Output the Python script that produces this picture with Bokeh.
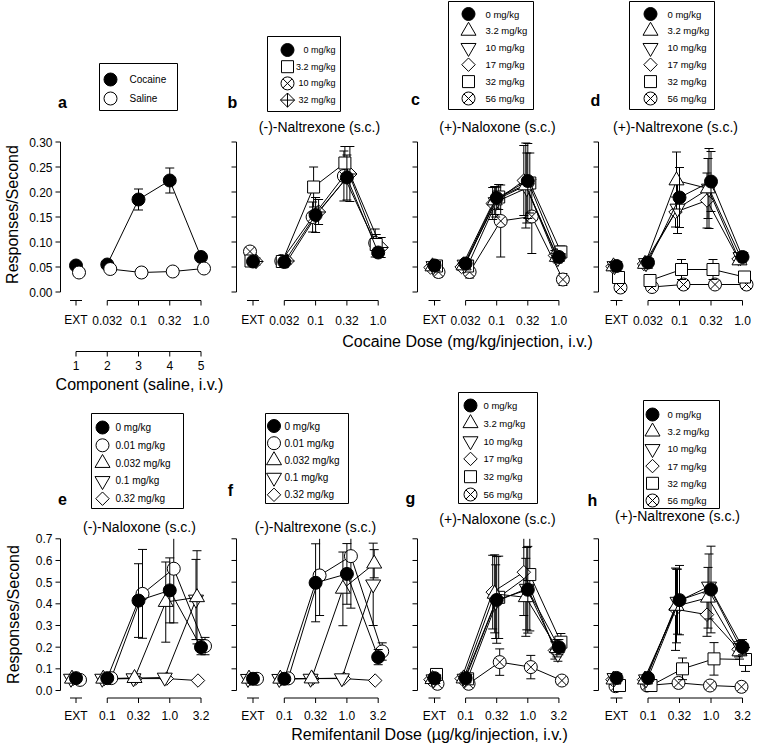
import numpy as np
from bokeh.plotting import figure
from bokeh.models import Range1d
from bokeh.core.properties import value
from bokeh.embed import file_html
from bokeh.resources import INLINE

# ===================== DATA =====================
cocaine_dose_labels = ["EXT", "0.032", "0.1", "0.32", "1.0"]
remifentanil_dose_labels = ["EXT", "0.1", "0.32", "1.0", "3.2"]
component_labels = ["1", "2", "3", "4", "5"]
top_y_ticks = [0.00, 0.05, 0.10, 0.15, 0.20, 0.25, 0.30]
top_y_tick_labels = ["0.00", "0.05", "0.10", "0.15", "0.20", "0.25", "0.30"]
bottom_y_ticks = [0.0, 0.1, 0.2, 0.3, 0.4, 0.5, 0.6, 0.7]
bottom_y_tick_labels = ["0.0", "0.1", "0.2", "0.3", "0.4", "0.5", "0.6", "0.7"]

# (a) cocaine vs saline
a_labels = ["Cocaine", "Saline"]
a_cocaine_mean = [0.053, 0.055, 0.185, 0.223, 0.070]
a_cocaine_sem = [0.004, 0.004, 0.021, 0.025, 0.006]
a_saline_mean = [0.039, 0.046, 0.039, 0.041, 0.047]
a_saline_sem = [0.003, 0.003, 0.002, 0.003, 0.004]

# (b) (-)-naltrexone, cocaine
b_labels = ["0 mg/kg", "3.2 mg/kg", "10 mg/kg", "32 mg/kg"]
b_0_mean = [0.061, 0.060, 0.154, 0.229, 0.079]
b_0_sem = [0.006, 0.005, 0.035, 0.045, 0.010]
b_3p2_mean = [0.062, 0.061, 0.210, 0.258, 0.095]
b_3p2_sem = [0.008, 0.006, 0.040, 0.033, 0.020]
b_10_mean = [0.081, 0.062, 0.150, 0.232, 0.098]
b_10_sem = [0.009, 0.006, 0.030, 0.050, 0.028]
b_32_mean = [0.061, 0.062, 0.160, 0.236, 0.089]
b_32_sem = [0.007, 0.006, 0.025, 0.055, 0.020]

# (c) (+)-naloxone, cocaine
c_labels = ["0 mg/kg", "3.2 mg/kg", "10 mg/kg", "17 mg/kg", "32 mg/kg", "56 mg/kg"]
c_0_mean = [0.053, 0.057, 0.188, 0.222, 0.070]
c_0_sem = [0.006, 0.006, 0.022, 0.075, 0.008]
c_3p2_mean = [0.051, 0.053, 0.183, 0.213, 0.070]
c_3p2_sem = [0.006, 0.006, 0.028, 0.085, 0.010]
c_10_mean = [0.052, 0.055, 0.180, 0.208, 0.068]
c_10_sem = [0.006, 0.006, 0.030, 0.070, 0.010]
c_17_mean = [0.049, 0.050, 0.177, 0.223, 0.073]
c_17_sem = [0.006, 0.006, 0.032, 0.070, 0.010]
c_32_mean = [0.052, 0.052, 0.190, 0.218, 0.080]
c_32_sem = [0.006, 0.006, 0.025, 0.060, 0.012]
c_56_mean = [0.040, 0.040, 0.142, 0.151, 0.025]
c_56_sem = [0.010, 0.012, 0.072, 0.074, 0.012]

# (d) (+)-naltrexone, cocaine
d_labels = ["0 mg/kg", "3.2 mg/kg", "10 mg/kg", "17 mg/kg", "32 mg/kg", "56 mg/kg"]
d_0_mean = [0.052, 0.059, 0.189, 0.221, 0.070]
d_0_sem = [0.008, 0.006, 0.060, 0.060, 0.010]
d_3p2_mean = [0.051, 0.056, 0.223, 0.207, 0.063]
d_3p2_sem = [0.008, 0.006, 0.057, 0.060, 0.008]
d_10_mean = [0.052, 0.058, 0.167, 0.207, 0.070]
d_10_sem = [0.008, 0.006, 0.050, 0.080, 0.008]
d_17_mean = [0.051, 0.056, 0.160, 0.183, 0.066]
d_17_sem = [0.008, 0.006, 0.030, 0.055, 0.008]
d_32_mean = [0.029, 0.023, 0.045, 0.045, 0.030]
d_32_sem = [0.006, 0.004, 0.020, 0.020, 0.005]
d_56_mean = [0.009, 0.010, 0.015, 0.015, 0.015]
d_56_sem = [0.003, 0.003, 0.003, 0.003, 0.003]

# (e) (-)-naloxone, remifentanil
e_labels = ["0 mg/kg", "0.01 mg/kg", "0.032 mg/kg", "0.1 mg/kg", "0.32 mg/kg"]
e_0_mean = [0.057, 0.057, 0.415, 0.462, 0.200]
e_0_sem = [0.008, 0.006, 0.170, 0.150, 0.035]
e_0p01_mean = [0.049, 0.057, 0.446, 0.562, 0.205]
e_0p01_sem = [0.008, 0.006, 0.205, 0.250, 0.040]
e_0p032_mean = [0.054, 0.054, 0.057, 0.408, 0.430]
e_0p032_sem = [0.006, 0.006, 0.006, 0.185, 0.215]
e_0p1_mean = [0.055, 0.055, 0.057, 0.060, 0.420]
e_0p1_sem = [0.006, 0.006, 0.006, 0.006, 0.185]
e_0p32_mean = [0.053, 0.053, 0.055, 0.055, 0.046]
e_0p32_sem = [0.006, 0.006, 0.006, 0.006, 0.005]

# (f) (-)-naltrexone, remifentanil
f_labels = ["0 mg/kg", "0.01 mg/kg", "0.032 mg/kg", "0.1 mg/kg", "0.32 mg/kg"]
f_0_mean = [0.054, 0.054, 0.497, 0.538, 0.154]
f_0_sem = [0.006, 0.006, 0.180, 0.140, 0.035]
f_0p01_mean = [0.054, 0.056, 0.531, 0.620, 0.180]
f_0p01_sem = [0.006, 0.006, 0.185, 0.240, 0.040]
f_0p032_mean = [0.054, 0.054, 0.055, 0.469, 0.585]
f_0p032_sem = [0.006, 0.006, 0.006, 0.170, 0.065]
f_0p1_mean = [0.054, 0.054, 0.055, 0.057, 0.490]
f_0p1_sem = [0.006, 0.006, 0.006, 0.006, 0.190]
f_0p32_mean = [0.054, 0.054, 0.055, 0.055, 0.046]
f_0p32_sem = [0.006, 0.006, 0.006, 0.006, 0.005]

# (g) (+)-naloxone, remifentanil
g_labels = ["0 mg/kg", "3.2 mg/kg", "10 mg/kg", "17 mg/kg", "32 mg/kg", "56 mg/kg"]
g_0_mean = [0.057, 0.057, 0.418, 0.465, 0.200]
g_0_sem = [0.008, 0.006, 0.200, 0.200, 0.035]
g_3p2_mean = [0.052, 0.055, 0.446, 0.430, 0.195]
g_3p2_sem = [0.008, 0.006, 0.180, 0.180, 0.040]
g_10_mean = [0.052, 0.055, 0.410, 0.470, 0.170]
g_10_sem = [0.008, 0.006, 0.170, 0.190, 0.035]
g_17_mean = [0.050, 0.055, 0.454, 0.546, 0.185]
g_17_sem = [0.008, 0.006, 0.170, 0.200, 0.040]
g_32_mean = [0.074, 0.054, 0.430, 0.535, 0.223]
g_32_sem = [0.010, 0.006, 0.190, 0.260, 0.040]
g_56_mean = [0.031, 0.031, 0.131, 0.108, 0.046]
g_56_sem = [0.005, 0.005, 0.061, 0.054, 0.005]

# (h) (+)-naltrexone, remifentanil
h_labels = ["0 mg/kg", "3.2 mg/kg", "10 mg/kg", "17 mg/kg", "32 mg/kg", "56 mg/kg"]
h_0_mean = [0.058, 0.058, 0.417, 0.466, 0.200]
h_0_sem = [0.008, 0.006, 0.160, 0.200, 0.035]
h_3p2_mean = [0.050, 0.050, 0.390, 0.428, 0.180]
h_3p2_sem = [0.008, 0.006, 0.170, 0.140, 0.035]
h_10_mean = [0.058, 0.052, 0.410, 0.480, 0.196]
h_10_sem = [0.008, 0.006, 0.150, 0.150, 0.035]
h_17_mean = [0.050, 0.050, 0.375, 0.350, 0.190]
h_17_sem = [0.008, 0.006, 0.190, 0.100, 0.035]
h_32_mean = [0.023, 0.023, 0.100, 0.146, 0.143]
h_32_sem = [0.005, 0.005, 0.050, 0.075, 0.055]
h_56_mean = [0.020, 0.023, 0.035, 0.023, 0.017]
h_56_sem = [0.004, 0.004, 0.004, 0.004, 0.004]

# ===================== STYLE / LAYOUT =====================
FONT = value("Liberation Sans")
W, H = 757, 745
X_LO, X_HI, Y_TOP, Y_BOT = 0, 757, 0, 745

MARKERS = {
    "filled": dict(marker="circle", size=13, fill="black", angle=0.0),
    "open": dict(marker="circle", size=13, fill="white", angle=0.0),
    "tri": dict(marker="triangle", size=15, fill="white", angle=0.0),
    "itri": dict(marker="inverted_triangle", size=15, fill="white", angle=0.0),
    "diam": dict(marker="square", size=9.5, fill="white", angle=np.pi / 4),
    "sq": dict(marker="square", size=12, fill="white", angle=0.0),
    "cx": dict(marker="circle_x", size=13, fill="white", angle=0.0),
    "dcross": dict(marker="square_x", size=10, fill="white", angle=np.pi / 4),
}

COLS = {
    1: dict(x0=75.5, dx=31.25, yaxis=60),
    2: dict(x0=252.5, dx=31.3, yaxis=236),
    3: dict(x0=434.0, dx=31.1, yaxis=417),
    4: dict(x0=616.0, dx=31.5, yaxis=598),
}
ROWS = {
    "top": dict(y0=291.5, ppu=500.0, ymax=0.30, xaxis=300, ticklab=319.5,
                ticks=top_y_ticks, labels=top_y_tick_labels),
    "bot": dict(y0=690.0, ppu=216.7, ymax=0.70, xaxis=697.5, ticklab=715,
                ticks=bottom_y_ticks, labels=bottom_y_tick_labels),
}

p = figure(width=W, height=H, x_range=Range1d(X_LO, X_HI), y_range=Range1d(Y_BOT, Y_TOP),
           output_backend="svg", toolbar_location=None,
           x_axis_location=None, y_axis_location=None, min_border=0)
p.outline_line_color = None
p.grid.grid_line_color = None
p.background_fill_color = "white"
p.border_fill_color = "white"

BLACK = "black"


def txt(x, y, s, size, align="center", bold=False, angle=0.0, **kw):
    p.text(x=x, y=y, text=s, text_font=FONT, text_font_size=size, text_align=align,
           text_baseline="middle", text_color=BLACK, angle=angle,
           text_font_style="bold" if bold else "normal", **kw)


def draw_panel(name, col, row, xlabels, series, ylabels=False):
    c, r = COLS[col], ROWS[row]
    x0, dx, y0, ppu, ymax = c["x0"], c["dx"], r["y0"], r["ppu"], r["ymax"]
    p.extra_x_ranges[name] = Range1d((X_LO - x0) / dx, (X_HI - x0) / dx)
    p.extra_y_ranges[name] = Range1d((y0 - Y_BOT) / ppu, (y0 - Y_TOP) / ppu)
    kw = dict(x_range_name=name, y_range_name=name)
    ux = lambda n: n / dx
    uy = lambda n: n / ppu
    ax = (c["yaxis"] - x0) / dx
    ticks = r["ticks"]
    nt = len(ticks)
    # y axis
    p.segment(x0=[ax], y0=[0], x1=[ax], y1=[ymax], line_color=BLACK, line_width=1, **kw)
    p.segment(x0=[ax] * nt, y0=ticks, x1=[ax - ux(5)] * nt, y1=ticks, line_color=BLACK, line_width=1, **kw)
    if ylabels:
        txt([ax - ux(8)] * nt, ticks, r["labels"], "12px", align="right", **kw)
    # broken x axis
    xa = (y0 - r["xaxis"]) / ppu
    pos = list(range(len(xlabels)))
    p.segment(x0=[1, -ux(6)], y0=[xa, xa], x1=[pos[-1], ux(6)], y1=[xa, xa],
              line_color=BLACK, line_width=1, **kw)
    p.segment(x0=pos, y0=[xa] * len(pos), x1=pos, y1=[xa - uy(5)] * len(pos),
              line_color=BLACK, line_width=1, **kw)
    txt(pos, [(y0 - r["ticklab"]) / ppu] * len(pos), xlabels, "12px", **kw)
    # data series
    for s in series:
        m = np.array(s["mean"], dtype=float)
        e = np.array(s["sem"], dtype=float)
        xs = np.arange(len(m)) + ux(s["off"])
        p.line(xs[1:], m[1:], line_color=BLACK, line_width=1, **kw)
        up = np.minimum(m + e, ymax)
        lo = m - e
        p.segment(x0=xs, y0=lo, x1=xs, y1=up, line_color=BLACK, line_width=1, **kw)
        capped = (m + e) <= ymax
        cw = ux(4.5)
        p.segment(x0=xs[capped] - cw, y0=up[capped], x1=xs[capped] + cw, y1=up[capped],
                  line_color=BLACK, line_width=1, **kw)
        p.segment(x0=xs - cw, y0=lo, x1=xs + cw, y1=lo, line_color=BLACK, line_width=1, **kw)
        st = MARKERS[s["style"]]
        p.scatter(xs, m, marker=st["marker"], size=st["size"], angle=st["angle"],
                  fill_color=st["fill"], line_color=BLACK, line_width=1, **kw)
    return dict(x0=x0, dx=dx, y0=y0, ppu=ppu, kw=kw)


def draw_legend(box, styles, labels, mx, tx, rows_y, size, align="left"):
    l, t, r_, b = box
    p.quad(left=[l], right=[r_], top=[t], bottom=[b], fill_color=None, line_color=BLACK, line_width=1)
    for st_key, yy in zip(styles, rows_y):
        st = MARKERS[st_key]
        p.scatter([mx], [yy], marker=st["marker"], size=st["size"], angle=st["angle"],
                  fill_color=st["fill"], line_color=BLACK, line_width=1)
    txt([tx] * len(labels), rows_y, labels, size, align=align)


def mk(means, sems, styles, offs, order):
    return [dict(mean=means[i], sem=sems[i], style=styles[i], off=offs[i]) for i in order]


six_styles = ["filled", "tri", "itri", "diam", "sq", "cx"]
five_styles = ["filled", "open", "tri", "itri", "diam"]
rev6 = [5, 4, 3, 2, 1, 0]
rev5 = [4, 3, 2, 1, 0]

# ---- panel a ----
pa = draw_panel("a", 1, "top", cocaine_dose_labels,
                mk([a_cocaine_mean, a_saline_mean], [a_cocaine_sem, a_saline_sem],
                   ["filled", "open"], [0, 3], [0, 1]), ylabels=True)
# component axis (saline)
comp_y = (pa["y0"] - 351) / pa["ppu"]
cpos = list(range(len(component_labels)))
p.segment(x0=[0], y0=[comp_y], x1=[cpos[-1]], y1=[comp_y], line_color=BLACK, line_width=1, **pa["kw"])
p.segment(x0=cpos, y0=[comp_y] * len(cpos), x1=cpos, y1=[comp_y - 5 / pa["ppu"]] * len(cpos),
          line_color=BLACK, line_width=1, **pa["kw"])
txt(cpos, [(pa["y0"] - 364.5) / pa["ppu"]] * len(cpos), component_labels, "12px", **pa["kw"])

# ---- panel b ----
draw_panel("b", 2, "top", cocaine_dose_labels,
           mk([b_0_mean, b_3p2_mean, b_10_mean, b_32_mean], [b_0_sem, b_3p2_sem, b_10_sem, b_32_sem],
              ["filled", "sq", "cx", "dcross"], [0, -2, -3, 3], [3, 2, 1, 0]))
# ---- panel c ----
draw_panel("c", 3, "top", cocaine_dose_labels,
           mk([c_0_mean, c_3p2_mean, c_10_mean, c_17_mean, c_32_mean, c_56_mean],
              [c_0_sem, c_3p2_sem, c_10_sem, c_17_sem, c_32_sem, c_56_sem],
              six_styles, [0, -2, -1, -4, 2, 4], rev6))
# ---- panel d ----
draw_panel("d", 4, "top", cocaine_dose_labels,
           mk([d_0_mean, d_3p2_mean, d_10_mean, d_17_mean, d_32_mean, d_56_mean],
              [d_0_sem, d_3p2_sem, d_10_sem, d_17_sem, d_32_sem, d_56_sem],
              six_styles, [0, -3, -2, -4, 2, 4], rev6))
# ---- panel e ----
draw_panel("e", 1, "bot", remifentanil_dose_labels,
           mk([e_0_mean, e_0p01_mean, e_0p032_mean, e_0p1_mean, e_0p32_mean],
              [e_0_sem, e_0p01_sem, e_0p032_sem, e_0p1_sem, e_0p32_sem],
              five_styles, [0, 4, -4, -5, -3], rev5), ylabels=True)
# ---- panel f ----
draw_panel("f", 2, "bot", remifentanil_dose_labels,
           mk([f_0_mean, f_0p01_mean, f_0p032_mean, f_0p1_mean, f_0p32_mean],
              [f_0_sem, f_0p01_sem, f_0p032_sem, f_0p1_sem, f_0p32_sem],
              five_styles, [0, 4, -4, -5, -3], rev5))
# ---- panel g ----
draw_panel("g", 3, "bot", remifentanil_dose_labels,
           mk([g_0_mean, g_3p2_mean, g_10_mean, g_17_mean, g_32_mean, g_56_mean],
              [g_0_sem, g_3p2_sem, g_10_sem, g_17_sem, g_32_sem, g_56_sem],
              six_styles, [0, -2, -1, -4, 2, 3], rev6))
# ---- panel h ----
draw_panel("h", 4, "bot", remifentanil_dose_labels,
           mk([h_0_mean, h_3p2_mean, h_10_mean, h_17_mean, h_32_mean, h_56_mean],
              [h_0_sem, h_3p2_sem, h_10_sem, h_17_sem, h_32_sem, h_56_sem],
              six_styles, [0, -3, -2, -4, 3, -1], rev6))

# ---- legends ----
draw_legend((99, 63, 177, 110), ["filled", "open"], a_labels, 110, 129, [79, 98], "10px")
draw_legend((267, 36, 340, 111), ["filled", "sq", "cx", "dcross"], b_labels, 287, 335,
            [49.5 + 16.7 * i for i in range(4)], "9px", align="right")
draw_legend((448, 1, 533, 109), six_styles, c_labels, 468, 485,
            [13.5 + 16.9 * i for i in range(6)], "9.5px")
draw_legend((629, 1, 714, 109), six_styles, d_labels, 650, 667,
            [13.5 + 16.9 * i for i in range(6)], "9.5px")
draw_legend((91, 413, 183, 508), five_styles, e_labels, 102, 115,
            [427 + 17.8 * i for i in range(5)], "10px")
draw_legend((265, 413, 348, 503), five_styles, f_labels, 273.5, 284,
            [425.5 + 17.2 * i for i in range(5)], "10px")
draw_legend((458, 392, 537, 503), six_styles, g_labels, 470, 483,
            [405 + 17.8 * i for i in range(6)], "9.5px")
draw_legend((643, 400, 719, 508), six_styles, h_labels, 652, 667,
            [414 + 17.2 * i for i in range(6)], "9.5px")

# ---- panel letters & titles ----
txt([62, 232, 415, 595, 62, 230, 410, 592], [102, 102, 99, 100, 498, 490, 498, 500],
    ["a", "b", "c", "d", "e", "f", "g", "h"], "16px", bold=True)
txt([319, 497, 675], [126, 126, 126],
    ["(-)-Naltrexone (s.c.)", "(+)-Naloxone (s.c.)", "(+)-Naltrexone (s.c.)"], "14px")
txt([139, 315, 497, 677], [526, 526, 518, 515],
    ["(-)-Naloxone (s.c.)", "(-)-Naltrexone (s.c.)", "(+)-Naloxone (s.c.)", "(+)-Naltrexone (s.c.)"], "14px")

# ---- axis titles ----
txt([12, 13], [214, 614], ["Responses/Second", "Responses/Second"], "16px", angle=np.pi / 2)
txt([467], [341], ["Cocaine Dose (mg/kg/injection, i.v.)"], "16px")
txt([139], [384], ["Component (saline, i.v.)"], "16px")
txt([429], [734], ["Remifentanil Dose (\u00b5g/kg/injection, i.v.)"], "16px")

open("out.html", "w").write(file_html(p, INLINE))
